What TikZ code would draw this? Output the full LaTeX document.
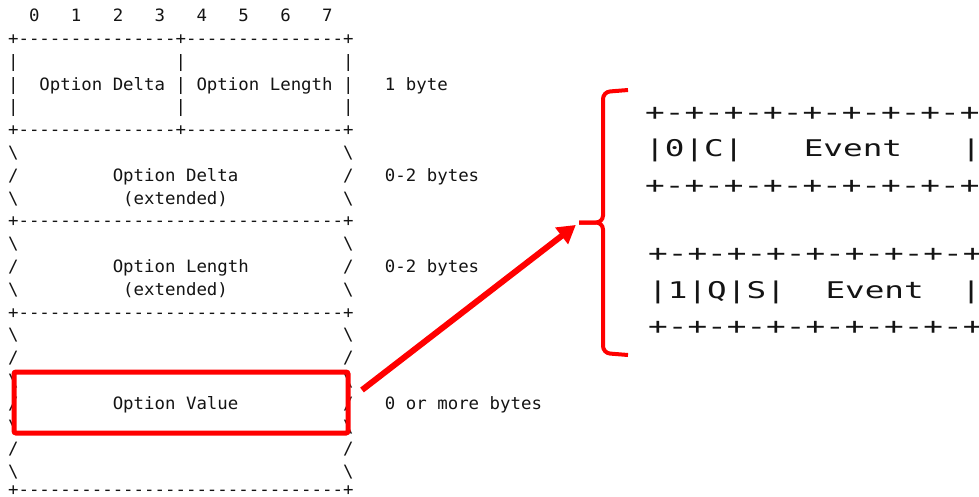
\documentclass[tikz,border=0pt]{standalone}
\usepackage{fontspec}
\usetikzlibrary{arrows.meta}
\newfontfamily\lmono[Ligatures=TeXOff,FakeStretch=1.023]{DejaVu Sans Mono}
\newfontfamily\rmono[Ligatures=TeXOff,FakeStretch=1.42]{DejaVu Sans Mono}
\definecolor{redmark}{RGB}{255,0,0}
\definecolor{ink}{RGB}{20,20,20}
\tikzset{
  lt/.style={anchor=base west, inner sep=0pt, outer sep=0pt, font=\lmono\fontsize{17}{17}\selectfont, text=ink},
  rt/.style={anchor=base west, inner sep=0pt, outer sep=0pt, font=\rmono\fontsize{23}{23}\selectfont, text=ink},
  redbox/.style={draw=redmark, line width=5pt, rounded corners=2pt, inner sep=0pt},
  redarrow/.style={draw=redmark, line width=6pt, -{Triangle[length=18pt,width=20pt]}},
  bracepath/.style={draw=redmark, line width=4pt, rounded corners=7pt, line cap=butt}
}
\newcommand\Lt[4]{\node[lt] (#1) at ({8.065+#2*10.47},{21.6+#3*22.8}) {#4};}
\begin{document}
\begin{tikzpicture}[x=1pt,y=-1pt]
\useasboundingbox (0,0) rectangle (979,496);
\clip (0,0) rectangle (979,496);
\fill[white] (0,0) rectangle (979,496);
% header digits
\Lt{d0}{2}{0}{0}\Lt{d1}{6}{0}{1}\Lt{d2}{10}{0}{2}\Lt{d3}{14}{0}{3}
\Lt{d4}{18}{0}{4}\Lt{d5}{22}{0}{5}\Lt{d6}{26}{0}{6}\Lt{d7}{30}{0}{7}
% first row
\Lt{b1}{0}{1}{+---------------+---------------+}
\Lt{p2a}{0}{2}{|}\Lt{p2b}{16}{2}{|}\Lt{p2c}{32}{2}{|}
\Lt{p3a}{0}{3}{|}\Lt{od}{3}{3}{Option Delta}\Lt{p3b}{16}{3}{|}\Lt{ol}{18}{3}{Option Length}\Lt{p3c}{32}{3}{|}
\Lt{s1}{36}{3}{1 byte}
\Lt{p4a}{0}{4}{|}\Lt{p4b}{16}{4}{|}\Lt{p4c}{32}{4}{|}
\Lt{b5}{0}{5}{+---------------+---------------+}
% delta extended
\Lt{e6a}{0}{6}{\textbackslash}\Lt{e6b}{32}{6}{\textbackslash}
\Lt{e7a}{0}{7}{/}\Lt{ode}{10}{7}{Option Delta}\Lt{e7b}{32}{7}{/}\Lt{s2}{36}{7}{0-2 bytes}
\Lt{e8a}{0}{8}{\textbackslash}\Lt{x1}{11}{8}{(extended)}\Lt{e8b}{32}{8}{\textbackslash}
\Lt{b9}{0}{9}{+-------------------------------+}
% length extended
\Lt{e10a}{0}{10}{\textbackslash}\Lt{e10b}{32}{10}{\textbackslash}
\Lt{e11a}{0}{11}{/}\Lt{ole}{10}{11}{Option Length}\Lt{e11b}{32}{11}{/}\Lt{s3}{36}{11}{0-2 bytes}
\Lt{e12a}{0}{12}{\textbackslash}\Lt{x2}{11}{12}{(extended)}\Lt{e12b}{32}{12}{\textbackslash}
\Lt{b13}{0}{13}{+-------------------------------+}
% value
\Lt{e14a}{0}{14}{\textbackslash}\Lt{e14b}{32}{14}{\textbackslash}
\Lt{e15a}{0}{15}{/}\Lt{e15b}{32}{15}{/}
\Lt{e16a}{0}{16}{\textbackslash}\Lt{e16b}{32}{16}{\textbackslash}
\Lt{e17a}{0}{17}{/}\Lt{ov}{10}{17}{Option Value}\Lt{e17b}{32}{17}{/}\Lt{s4}{36}{17}{0 or more bytes}
\Lt{e18a}{0}{18}{\textbackslash}\Lt{e18b}{32}{18}{\textbackslash}
\Lt{e19a}{0}{19}{/}\Lt{e19b}{32}{19}{/}
\Lt{e20a}{0}{20}{\textbackslash}\Lt{e20b}{32}{20}{\textbackslash}
\node[lt] (b21) at (8.065,495.5) {+-------------------------------+};
% right blocks
\node[rt] (r1top) at (645.2,120.5) {+-+-+-+-+-+-+-+-+-};
\node[rt] (r1a) at (645.2,156) {|0|C|};
\node[rt] (r1ev) at (803.8,156) {Event};
\node[rt] (r1end) at (961.4,156) {|};
\node[rt] (r1bot) at (645.2,193.5) {+-+-+-+-+-+-+-+-+-};
\node[rt] (r2top) at (648.2,261.5) {+-+-+-+-+-+-+-+-+-};
\node[rt] (r2a) at (648.2,298) {|1|Q|S|};
\node[rt] (r2ev) at (825.5,298) {Event};
\node[rt] (r2end) at (961.4,298) {|};
\node[rt] (r2bot) at (648.2,334.5) {+-+-+-+-+-+-+-+-+-};
% highlight box
\node[redbox, minimum width=334pt, minimum height=61pt] (vbox) at (181,402.5) {};
% brace
\coordinate (brtip) at (579,222.5);
\coordinate (brtop) at (628,90);
\coordinate (brbot) at (628,355);
\draw[bracepath] (brtop) -- (603,92) -- (603,222.5) -- (brtip);
\draw[bracepath] (brtip) -- (603,222.5) -- (603,353) -- (brbot);
% arrow
\coordinate (astart) at (362,390);
\draw[redarrow, shorten >=4pt] (astart) -- (brtip);
\end{tikzpicture}
\end{document}
